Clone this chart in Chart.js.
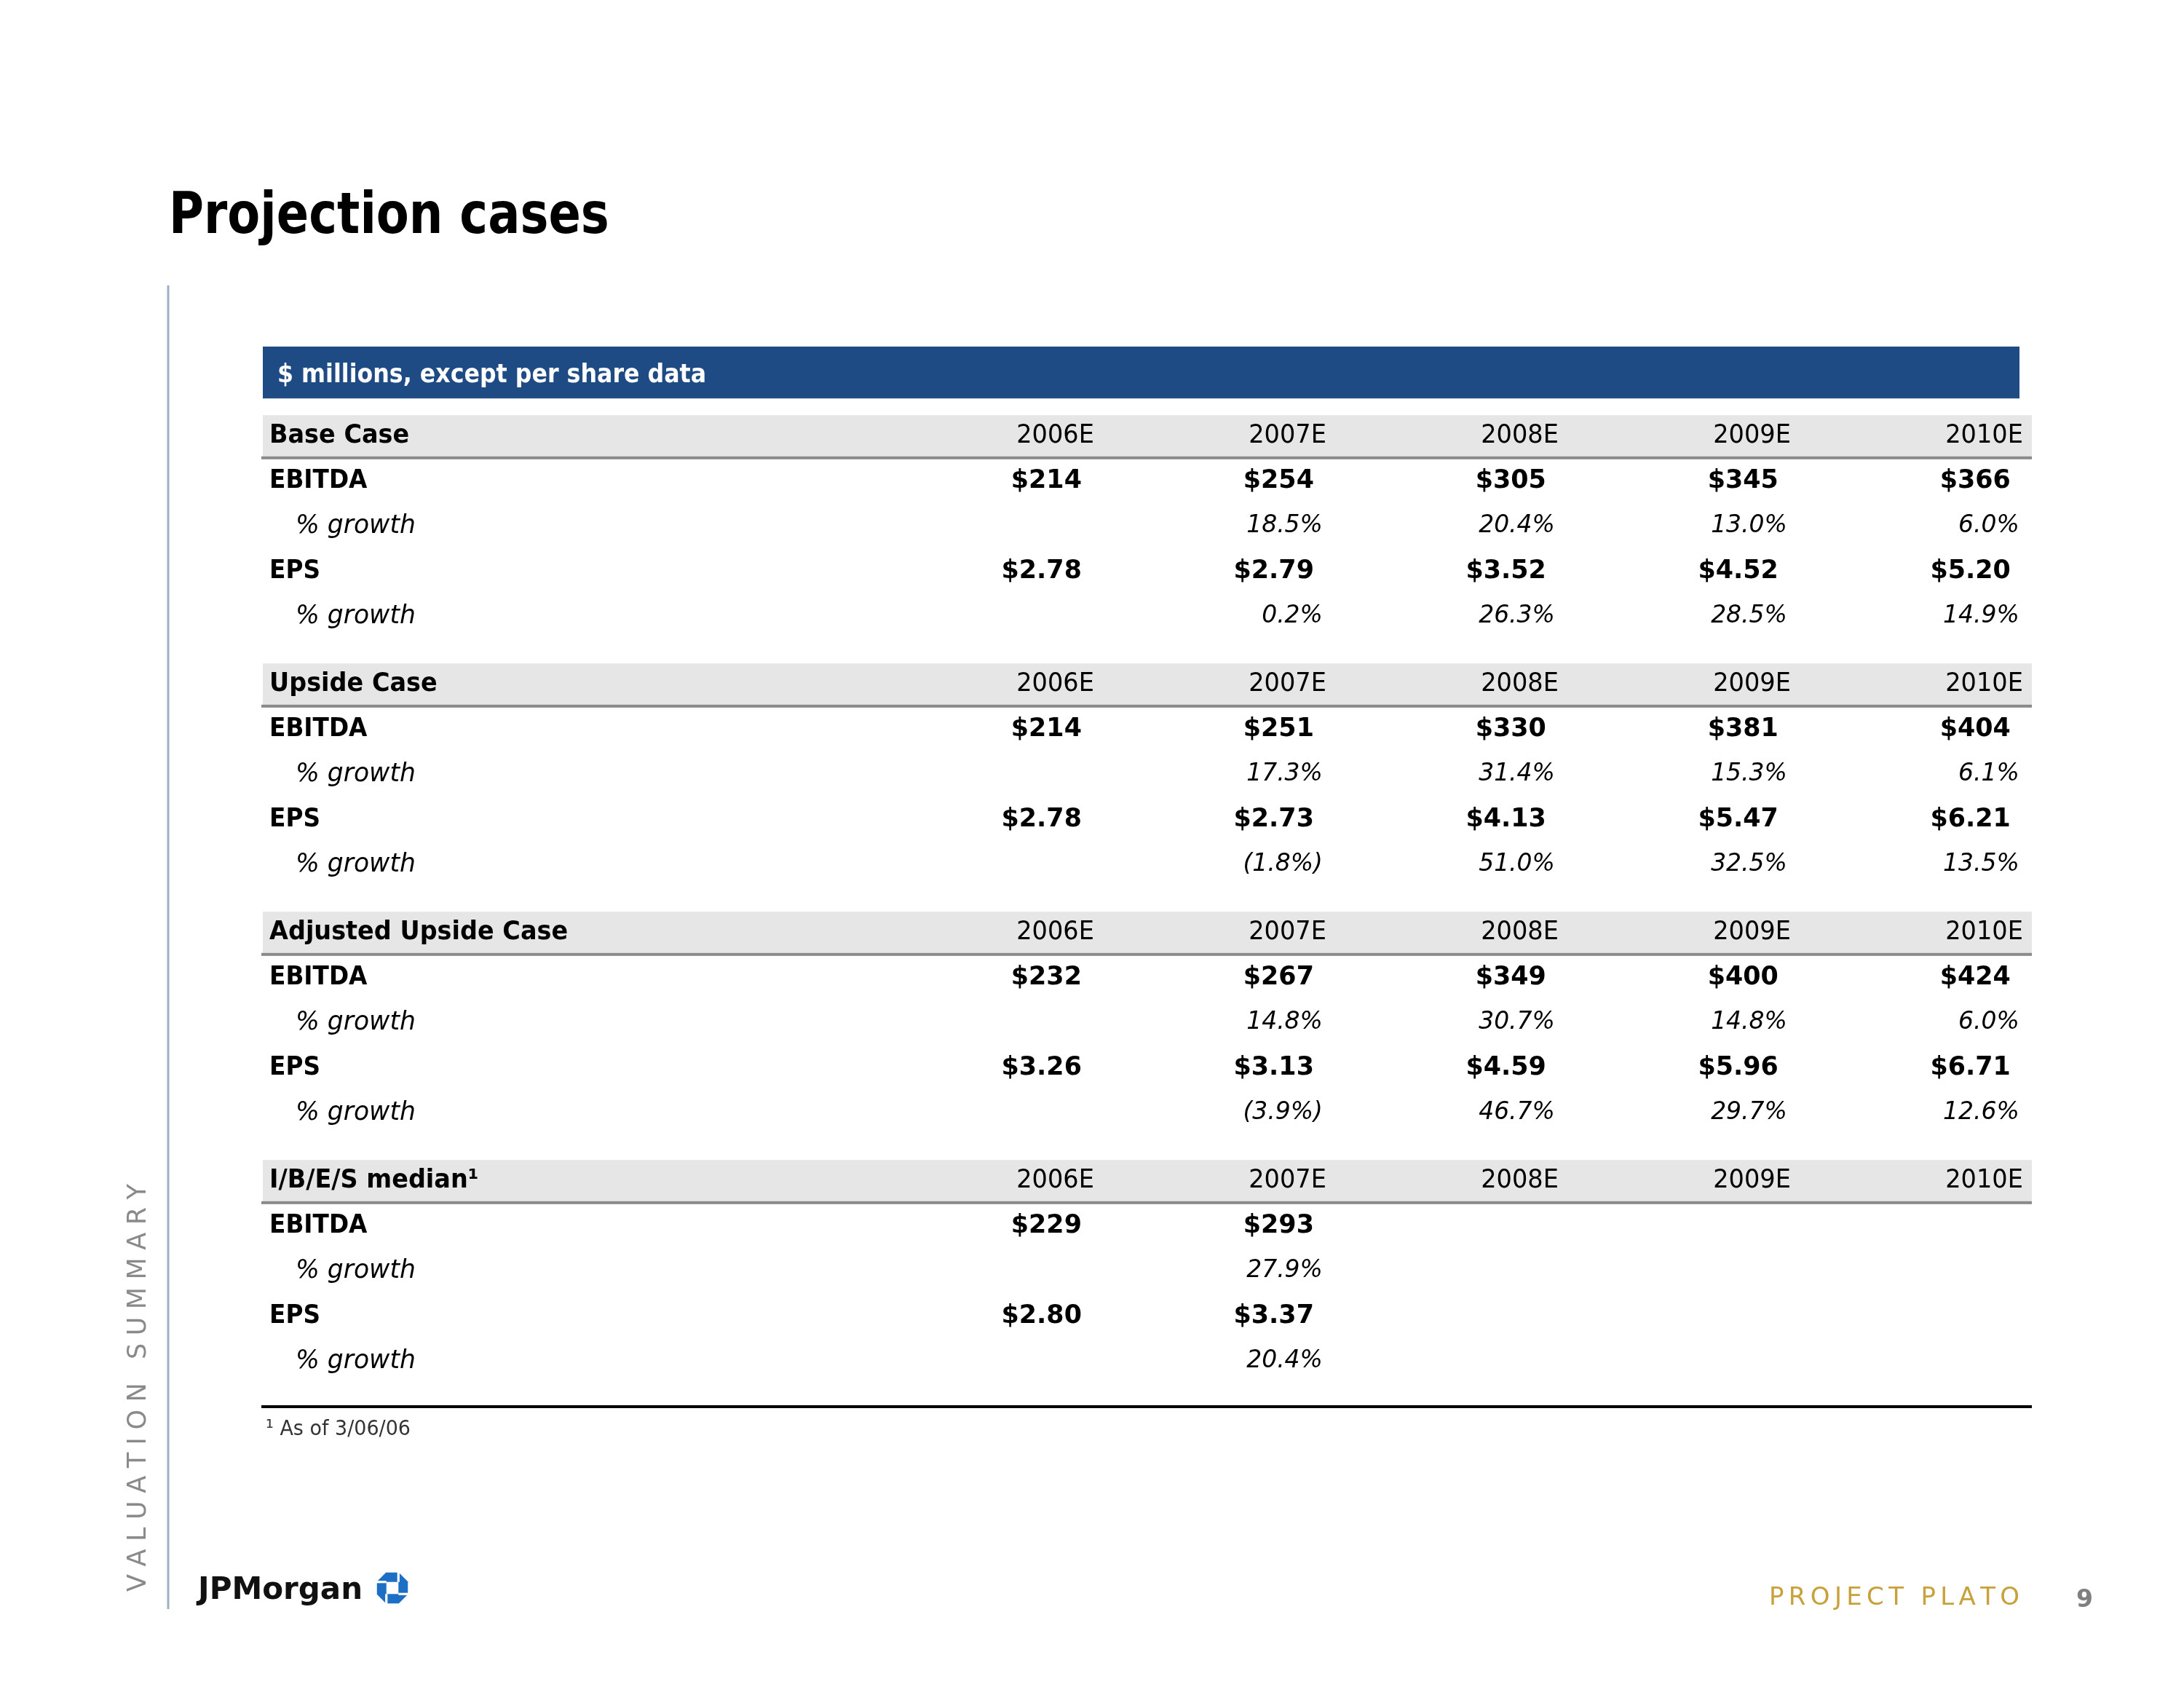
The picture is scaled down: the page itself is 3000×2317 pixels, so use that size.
<!DOCTYPE html>
<html>
<head>
<meta charset="utf-8">
<title>Projection cases</title>
<script src="https://cdn.jsdelivr.net/npm/chart.js@4.4.1/dist/chart.umd.min.js"></script>
<style>
  html, body { margin: 0; padding: 0; background: #fff; }
  #wrap { width: 3000px; height: 2317px; }
</style>
</head>
<body>
<div id="wrap"><canvas id="cases-chart" width="3000" height="2317"></canvas></div>
<script>
// column headers and row names
const years = ['2006E', '2007E', '2008E', '2009E', '2010E'];
const caseNames = ['Base Case', 'Upside Case', 'Adjusted Upside Case', 'I/B/E/S median¹'];
const rowNames = ['EBITDA', '% growth', 'EPS', '% growth'];

// Base case
const baseEbitda = [214, 254, 305, 345, 366];
const baseEbitdaGrowth = [null, 18.5, 20.4, 13.0, 6.0];
const baseEps = [2.78, 2.79, 3.52, 4.52, 5.20];
const baseEpsGrowth = [null, 0.2, 26.3, 28.5, 14.9];

// Upside case
const upsideEbitda = [214, 251, 330, 381, 404];
const upsideEbitdaGrowth = [null, 17.3, 31.4, 15.3, 6.1];
const upsideEps = [2.78, 2.73, 4.13, 5.47, 6.21];
const upsideEpsGrowth = [null, -1.8, 51.0, 32.5, 13.5];

// Adjusted upside case
const adjEbitda = [232, 267, 349, 400, 424];
const adjEbitdaGrowth = [null, 14.8, 30.7, 14.8, 6.0];
const adjEps = [3.26, 3.13, 4.59, 5.96, 6.71];
const adjEpsGrowth = [null, -3.9, 46.7, 29.7, 12.6];

// I/B/E/S median (only two years given)
const ibesEbitda = [229, 293, null, null, null];
const ibesEbitdaGrowth = [null, 27.9, null, null, null];
const ibesEps = [2.80, 3.37, null, null, null];
const ibesEpsGrowth = [null, 20.4, null, null, null];

const cases = [
    [baseEbitda, baseEbitdaGrowth, baseEps, baseEpsGrowth],
    [upsideEbitda, upsideEbitdaGrowth, upsideEps, upsideEpsGrowth],
    [adjEbitda, adjEbitdaGrowth, adjEps, adjEpsGrowth],
    [ibesEbitda, ibesEbitdaGrowth, ibesEps, ibesEpsGrowth]
];
const rowKinds = ['usd0', 'pct', 'usd2', 'pct'];
const SECTION = 5.5; // header row + 4 rows + half-row gap

const FONT = '"DejaVu Sans", Verdana, sans-serif';

function fmt(kind, v) {
    if (kind === 'usd0') return '$' + v.toFixed(0);
    if (kind === 'usd2') return '$' + v.toFixed(2);
    if (kind === 'pct') return v < 0 ? '(' + Math.abs(v).toFixed(1) + '%)' : v.toFixed(1) + '%';
    return String(v);
}

// one dataset per table line, x = year column, y = line index
const datasets = [];
cases.forEach(function(rows, s) {
    const top = s * SECTION;
    datasets.push({
        label: caseNames[s],
        kind: 'year',
        data: years.map(function(y, i) { return { x: i + 1, y: top, text: y }; })
    });
    rows.forEach(function(vals, r) {
        const pts = [];
        vals.forEach(function(v, i) {
            if (v !== null) pts.push({ x: i + 1, y: top + r + 1, v: v });
        });
        datasets.push({ label: rowNames[r], kind: rowKinds[r], data: pts });
    });
});

function put(ctx, text, x, y, size, style, color, align, squeeze) {
    ctx.font = style + ' ' + size + 'px ' + FONT;
    ctx.fillStyle = color;
    ctx.textAlign = align || 'left';
    ctx.textBaseline = 'alphabetic';
    const w = ctx.measureText(text).width;
    // y is the visual centre of the capitals
    const by = y + size * 0.36;
    if (squeeze && squeeze < 1) ctx.fillText(text, x, by, w * squeeze);
    else ctx.fillText(text, x, by);
}

function spaced(ctx, text, x, y, size, style, color, total) {
    ctx.font = style + ' ' + size + 'px ' + FONT;
    ctx.fillStyle = color;
    ctx.textAlign = 'left';
    ctx.textBaseline = 'middle';
    const ws = text.split('').map(function(c) { return ctx.measureText(c).width; });
    const sum = ws.reduce(function(a, b) { return a + b; }, 0);
    const gap = (total - sum) / (text.length - 1);
    let cx = x;
    text.split('').forEach(function(c, i) {
        ctx.fillText(c, cx, y);
        cx += ws[i] + gap;
    });
}

function chaseLogo(ctx, cx, cy, r) {
    ctx.save();
    ctx.translate(cx, cy);
    ctx.fillStyle = '#1c6fc4';
    ctx.beginPath();
    for (let k = 0; k < 8; k++) {
        const a = Math.PI / 8 + k * Math.PI / 4;
        ctx.lineTo(r * Math.cos(a), r * Math.sin(a));
    }
    ctx.closePath();
    ctx.fill();
    const h = r * 0.36;
    ctx.fillStyle = '#fff';
    ctx.fillRect(-h, -h, 2 * h, 2 * h);
    ctx.strokeStyle = '#fff';
    ctx.lineWidth = r * 0.14;
    for (let k = 0; k < 4; k++) {
        ctx.rotate(Math.PI / 2);
        ctx.beginPath();
        ctx.moveTo(h, -h);
        ctx.lineTo(h, -r - 2);
        ctx.stroke();
    }
    ctx.restore();
}

const tablePlugin = {
    id: 'tablePlugin',
    beforeDraw: function(chart) {
        const ctx = chart.ctx;
        const area = chart.chartArea;
        const ys = chart.scales.y;
        ctx.save();
        ctx.fillStyle = '#fff';
        ctx.fillRect(0, 0, chart.width, chart.height);

        // title
        put(ctx, 'Projection cases', 232, 292, 78, 'bold', '#000', 'left', 0.84);

        // left rule and side label
        ctx.strokeStyle = '#9db1c6';
        ctx.lineWidth = 3;
        ctx.beginPath();
        ctx.moveTo(231, 392);
        ctx.lineTo(231, 2210);
        ctx.stroke();
        ctx.save();
        ctx.translate(191, 2186);
        ctx.rotate(-Math.PI / 2);
        spaced(ctx, 'VALUATION SUMMARY', 0, 0, 35, 'normal', '#8a8a8a', 560);
        ctx.restore();

        // blue units bar
        const barBottom = ys.getPixelForValue(-0.77);
        ctx.fillStyle = '#1f4b85';
        ctx.fillRect(area.left, area.top, area.right - area.left - 17, barBottom - area.top);
        put(ctx, '$ millions, except per share data', area.left + 20, (area.top + barBottom) / 2, 36, 'bold', '#fff', 'left', 0.88);

        // grey header bands with rule underneath
        caseNames.forEach(function(name, s) {
            const v = s * SECTION;
            const t = ys.getPixelForValue(v - 0.40);
            const b = ys.getPixelForValue(v + 0.53);
            ctx.fillStyle = '#e6e6e6';
            ctx.fillRect(area.left, t, area.right - area.left, b - t);
            ctx.fillStyle = '#8a8a8a';
            ctx.fillRect(area.left - 2, b - 1, area.right - area.left + 2, 4);
        });

        // closing rule and footnote
        ctx.fillStyle = '#000';
        ctx.fillRect(area.left - 2, area.bottom - 2, area.right - area.left + 2, 4);
        put(ctx, '¹ As of 3/06/06', area.left + 4, area.bottom + 29, 29, 'normal', '#333', 'left', 0.93);

        // footer
        put(ctx, 'JPMorgan', 272, 2181, 42, 'bold', '#111', 'left', 1);
        chaseLogo(ctx, 539, 2181, 23);
        spaced(ctx, 'PROJECT PLATO', 2430, 2195, 34, 'normal', '#c9a13a', 344);
        put(ctx, '9', 2852, 2195, 33, 'bold', '#7f7f7f', 'left', 1);
        ctx.restore();
    },
    afterDatasetsDraw: function(chart) {
        const ctx = chart.ctx;
        const area = chart.chartArea;
        const ys = chart.scales.y;
        ctx.save();
        // row labels
        caseNames.forEach(function(name, s) {
            const v = s * SECTION;
            put(ctx, name, area.left + 9, ys.getPixelForValue(v), 36, 'bold', '#000', 'left', 0.93);
            rowNames.forEach(function(rn, r) {
                const y = ys.getPixelForValue(v + r + 1);
                if (rowKinds[r] === 'pct') put(ctx, rn, area.left + 45, y, 36, 'italic', '#000', 'left', 0.96);
                else put(ctx, rn, area.left + 9, y, 36, 'bold', '#000', 'left', 0.91);
            });
        });
        // cells, positioned by the scatter elements
        chart.data.datasets.forEach(function(ds, di) {
            const meta = chart.getDatasetMeta(di);
            meta.data.forEach(function(el, i) {
                const p = ds.data[i];
                if (ds.kind === 'year') put(ctx, p.text, el.x, el.y, 35, 'normal', '#000', 'right', 0.96);
                else if (ds.kind === 'pct') put(ctx, fmt('pct', p.v), el.x - 5, el.y, 34, 'italic', '#000', 'right', 0.97);
                else put(ctx, fmt(ds.kind, p.v), el.x - 17, el.y, 36, 'bold', '#000', 'right', 0.97);
            });
        });
        ctx.restore();
    }
};

const ctx = document.getElementById('cases-chart').getContext('2d');
window.casesChart = new Chart(ctx, {
    type: 'scatter',
    data: { datasets: datasets },
    options: {
        responsive: false,
        devicePixelRatio: 1,
        animation: false,
        events: [],
        layout: {
            padding: { left: 361, right: 209, top: 476, bottom: 385 }
        },
        elements: { point: { radius: 0, hoverRadius: 0 } },
        scales: {
            x: { type: 'linear', min: -2.58, max: 5.038, display: false },
            y: { type: 'linear', min: -1.919, max: 21.565, reverse: true, display: false }
        },
        plugins: {
            legend: { display: false },
            tooltip: { enabled: false }
        }
    },
    plugins: [tablePlugin]
});
</script>
</body>
</html>
